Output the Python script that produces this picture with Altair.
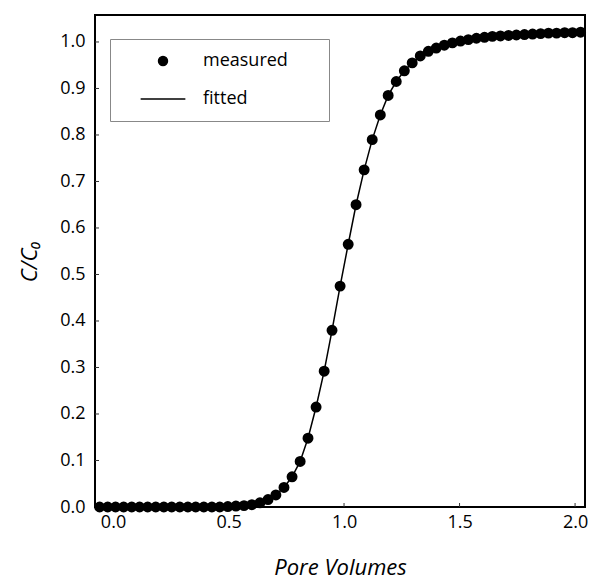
import altair as alt
import pandas as pd

# Measured breakthrough data (pore volumes, C/C0)
pv = [-0.058, -0.023, 0.011, 0.046, 0.081, 0.115, 0.150, 0.185, 0.220, 0.254,
      0.289, 0.324, 0.358, 0.393, 0.428, 0.462, 0.497, 0.532, 0.567, 0.601,
      0.636, 0.671, 0.705, 0.740, 0.775, 0.810, 0.844, 0.879, 0.914, 0.948,
      0.983, 1.018, 1.052, 1.087, 1.122, 1.157, 1.191, 1.226, 1.261, 1.295,
      1.330, 1.365, 1.399, 1.434, 1.469, 1.504, 1.538, 1.573, 1.608, 1.642,
      1.677, 1.712, 1.746, 1.781, 1.816, 1.851, 1.885, 1.920, 1.955, 1.989,
      2.024]
measured = [0.0, 0.0, 0.0, 0.0, 0.0, 0.0, 0.0, 0.0, 0.0, 0.0,
            0.0, 0.0, 0.0, 0.0, 0.0, 0.0, 0.001, 0.002, 0.003, 0.005,
            0.009, 0.016, 0.026, 0.042, 0.065, 0.098, 0.148, 0.215, 0.292, 0.380,
            0.475, 0.565, 0.650, 0.725, 0.790, 0.843, 0.885, 0.915, 0.938, 0.955,
            0.970, 0.980, 0.987, 0.993, 0.998, 1.002, 1.005, 1.008, 1.010, 1.012,
            1.013, 1.014, 1.015, 1.016, 1.017, 1.018, 1.019, 1.019, 1.020, 1.020,
            1.021]
fitted = [0.0, 0.0, 0.0, 0.0, 0.0, 0.0, 0.0, 0.0, 0.0, 0.0,
          0.0, 0.0, 0.0, 0.0, 0.0, 0.0, 0.001, 0.002, 0.003, 0.005,
          0.009, 0.016, 0.026, 0.042, 0.065, 0.098, 0.148, 0.215, 0.292, 0.380,
          0.475, 0.565, 0.650, 0.725, 0.790, 0.843, 0.885, 0.915, 0.938, 0.955,
          0.970, 0.980, 0.987, 0.993, 0.998, 1.002, 1.005, 1.008, 1.010, 1.012,
          1.013, 1.014, 1.015, 1.016, 1.017, 1.018, 1.019, 1.019, 1.020, 1.020,
          1.021]

x_ticks = [0.0, 0.5, 1.0, 1.5, 2.0]
y_ticks = [0.0, 0.1, 0.2, 0.3, 0.4, 0.5, 0.6, 0.7, 0.8, 0.9, 1.0]
series_names = ["measured", "fitted"]

df_m = pd.DataFrame({"pv": pv, "c": measured, "series": "measured"})
df_f = pd.DataFrame({"pv": pv, "c": fitted, "series": "fitted"})
df_xt = pd.DataFrame({"pv": x_ticks})
df_yt = pd.DataFrame({"c": y_ticks})

FONT = "Open Sans"
W, H = 490, 492

xscale = alt.Scale(domain=[-0.078, 2.043], nice=False, zero=False)
yscale = alt.Scale(domain=[0.0, 1.058], nice=False, zero=False)

xaxis = alt.Axis(values=x_ticks, format=".1f", title="Pore Volumes", grid=False,
                 ticks=False, domain=False, labelFont=FONT, labelFontSize=18,
                 labelColor="black", labelPadding=6, titleFont=FONT,
                 titleFontSize=22, titleFontStyle="italic", titleFontWeight="normal",
                 titleColor="black", titlePadding=26)
yaxis = alt.Axis(values=y_ticks, format=".1f", title="C/C₀", grid=False,
                 ticks=False, domain=False, labelFont=FONT, labelFontSize=18,
                 labelColor="black", labelPadding=10, titleFont=FONT,
                 titleFontSize=22, titleFontStyle="italic", titleFontWeight="normal",
                 titleColor="black", titlePadding=18)

legend = alt.Legend(orient="none", legendX=15, legendY=24, title=None,
                    padding=13, strokeColor="#888888", fillColor="white",
                    labelFont=FONT, labelFontSize=18, labelColor="black",
                    symbolSize=80, symbolStrokeWidth=1.5, rowPadding=20,
                    symbolOffset=31, labelOffset=31,
                    labelExpr="datum.label + '\u00a0\u00a0\u00a0\u00a0\u00a0\u00a0\u200b'")

# inward tick marks placed through the scales
xticks_layer = alt.Chart(df_xt).mark_rule(color="#333333", strokeWidth=1).encode(
    x=alt.X("pv:Q", scale=xscale, axis=xaxis),
    y=alt.value(H), y2=alt.value(H - 4),
)
yticks_layer = alt.Chart(df_yt).mark_rule(color="#333333", strokeWidth=1).encode(
    y=alt.Y("c:Q", scale=yscale, axis=yaxis),
    x=alt.value(0), x2=alt.value(4),
)

line = alt.Chart(df_f).mark_line(color="black", strokeWidth=1.5).encode(
    x=alt.X("pv:Q", scale=xscale, axis=xaxis),
    y=alt.Y("c:Q", scale=yscale, axis=yaxis),
)

points = alt.Chart(df_m).mark_point(filled=True, opacity=1, size=80).encode(
    x=alt.X("pv:Q", scale=xscale, axis=xaxis),
    y=alt.Y("c:Q", scale=yscale, axis=yaxis),
    fill=alt.Fill("series:N", scale=alt.Scale(domain=series_names, range=["black", "black"]), legend=legend),
    stroke=alt.Stroke("series:N", scale=alt.Scale(domain=series_names, range=["black", "black"]), legend=legend),
    shape=alt.Shape("series:N", scale=alt.Scale(domain=series_names, range=["circle", "M-5,0L5,0"]), legend=legend),
)

chart = alt.layer(xticks_layer, yticks_layer, line, points).properties(
    width=W, height=H,
    autosize=alt.AutoSizeParams(type="none"),
    padding={"left": 95, "top": 15, "right": 5, "bottom": 76},
).configure(background="white").configure_view(stroke="black", strokeWidth=2)

chart.save("out.html", embed_options={"renderer": "svg", "actions": False})
